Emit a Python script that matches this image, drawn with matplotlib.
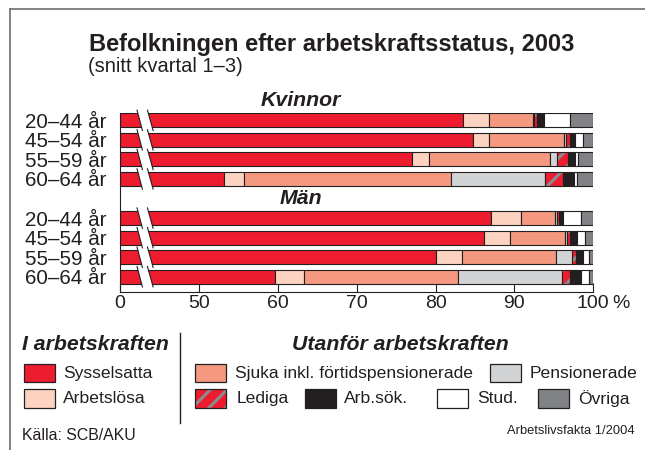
import numpy as np
import matplotlib
matplotlib.use('Agg')
import matplotlib.pyplot as plt
from matplotlib.patches import Rectangle, Polygon

plt.rcParams['font.family'] = ['Liberation Sans', 'DejaVu Sans']
plt.rcParams['hatch.linewidth'] = 2.2
plt.rcParams['hatch.color'] = '#8a8c8e'

# ---------------- data ----------------
row_labels = ['20–44 år', '45–54 år', '55–59 år', '60–64 år',
              '20–44 år', '45–54 år', '55–59 år', '60–64 år']
group_labels = ['Kvinnor', 'Män']
series_names = ['Sysselsatta', 'Arbetslösa', 'Sjuka inkl. förtidspensionerade',
                'Pensionerade', 'Lediga', 'Arb.sök.', 'Stud.', 'Övriga']

# first four: Kvinnor, last four: Män (percent)
sysselsatta  = [83.5, 84.7, 77.0, 53.2, 87.0, 86.2, 80.0, 59.6]
arbetslosa   = [3.3, 2.1, 2.2, 2.5, 3.8, 3.3, 3.3, 3.7]
sjuka        = [5.6, 9.5, 15.3, 26.2, 4.4, 6.9, 12.0, 19.5]
pensionerade = [0.1, 0.3, 0.9, 12.0, 0.2, 0.3, 2.0, 13.2]
lediga       = [0.3, 0.5, 1.4, 2.3, 0.2, 0.4, 0.5, 1.1]
arbsok       = [1.0, 0.6, 0.9, 1.3, 0.6, 0.8, 0.9, 1.4]
stud         = [3.2, 1.0, 0.4, 0.4, 2.2, 1.1, 0.8, 0.9]
ovriga       = [3.0, 1.3, 1.9, 2.1, 1.6, 1.0, 0.5, 0.6]

tick_values = [0, 50, 60, 70, 80, 90, 100]
tick_labels = ['0', '50', '60', '70', '80', '90', '100']

# ---------------- style ----------------
EDGE = '#231f20'
c_syss = '#ed1c2e'
c_arbl = '#fcd3c1'
c_sjuka = '#f4997f'
c_pens = '#d1d3d4'
c_led = '#ed1c2e'
c_hatch = '#8a8c8e'
c_arbsok = '#231f20'
c_stud = '#ffffff'
c_ovr = '#808285'

series_vals = [sysselsatta, arbetslosa, sjuka, pensionerade, lediga, arbsok, stud, ovriga]
series_cols = [c_syss, c_arbl, c_sjuka, c_pens, c_led, c_arbsok, c_stud, c_ovr]

W, H = 645, 450
fig = plt.figure(figsize=(W / 100, H / 100), dpi=100)
fig.patch.set_facecolor('white')

ax_top_px, ax_bot_px = 113.3, 292.0
ax_left_px, ax_right_px = 120.0, 593.3
ax = fig.add_axes([ax_left_px / W, 1 - ax_bot_px / H,
                   (ax_right_px - ax_left_px) / W, (ax_bot_px - ax_top_px) / H])


def fwd(v):
    v = np.asarray(v, dtype=float)
    return np.where(v <= 50, v / 5.0, v - 40.0)


def inv(p):
    p = np.asarray(p, dtype=float)
    return np.where(p <= 10, p * 5.0, p + 40.0)


ax.set_xscale('function', functions=(fwd, inv))
ax.set_xlim(0, 100)

ypos = np.array([0, 1, 2, 3, 5, 6, 7, 8], dtype=float)
bar_h = 0.72
ax.set_ylim(8.78, -bar_h / 2)

left = np.zeros(len(ypos))
for name, vals, col in zip(series_names, series_vals, series_cols):
    vals = np.array(vals)
    if name == 'Lediga':
        ax.barh(ypos, vals, left=left, height=bar_h, color=col,
                edgecolor=c_hatch, linewidth=0, hatch='//', zorder=2)
        ax.barh(ypos, vals, left=left, height=bar_h, fill=False,
                edgecolor=EDGE, linewidth=0.8, zorder=3)
    else:
        ax.barh(ypos, vals, left=left, height=bar_h, color=col,
                edgecolor=EDGE, linewidth=0.8, zorder=2)
    left = left + vals

# axis break marks
ext = 0.16
for y in ypos:
    t = y - bar_h / 2 - ext
    b = y + bar_h / 2 + ext
    x1t, x1b, x2t, x2b = 10.8, 14.2, 17.4, 21.0
    ax.add_patch(Polygon([(x1t, t), (x2t, t), (x2b, b), (x1b, b)], closed=True,
                         facecolor='white', edgecolor='none', zorder=5, clip_on=False))
    ax.plot([x1t, x1b], [t, b], color=EDGE, lw=0.8, zorder=6, clip_on=False)
    ax.plot([x2t, x2b], [t, b], color=EDGE, lw=0.8, zorder=6, clip_on=False)

for s in ['top', 'right']:
    ax.spines[s].set_visible(False)
for s in ['left', 'bottom']:
    ax.spines[s].set_color(EDGE)
    ax.spines[s].set_linewidth(0.8)

ax.set_xticks(tick_values)
ax.set_xticklabels(tick_labels)
ax.xaxis.set_minor_locator(matplotlib.ticker.NullLocator())
ax.tick_params(axis='x', direction='in', length=6.5, width=0.8, color=EDGE,
               labelsize=14, pad=2.5, labelcolor='#231f20')
ax.set_yticks(ypos)
ax.set_yticklabels(row_labels)
ax.tick_params(axis='y', length=0, labelsize=14.8, pad=9.5, labelcolor='#231f20')

# group labels
ax.text(62.9, -1.0, group_labels[0], ha='center', va='center', fontsize=15.3,
        fontweight='bold', fontstyle='italic', color='#231f20')
ax.text(62.9, 4.0, group_labels[1], ha='center', va='center', fontsize=15.3,
        fontweight='bold', fontstyle='italic', color='#231f20')

# ---------------- overlay (titles, legend, frame) ----------------
ov = fig.add_axes([0, 0, 1, 1])
ov.set_xlim(0, W)
ov.set_ylim(H, 0)
ov.axis('off')
ov.patch.set_visible(False)

TXT = '#231f20'
ov.plot([10, W], [9, 9], color='#6d6e70', lw=1.2)
ov.plot([10, 10], [9, H], color='#6d6e70', lw=1.2)

ov.text(89, 44, 'Befolkningen efter arbetskraftsstatus, 2003', fontsize=17,
        fontweight='bold', ha='left', va='center', color=TXT)
ov.text(88, 66, '(snitt kvartal 1–3)', fontsize=14.5, ha='left', va='center', color=TXT)
ov.text(612, 303, '%', fontsize=14, ha='left', va='center', color=TXT)

ov.text(22, 345, 'I arbetskraften', fontsize=15.3, fontweight='bold',
        fontstyle='italic', ha='left', va='center', color=TXT)
ov.text(292, 345, 'Utanför arbetskraften', fontsize=15.3, fontweight='bold',
        fontstyle='italic', ha='left', va='center', color=TXT)
ov.plot([180, 180], [333, 423], color=TXT, lw=1.0)

sw_w, sw_h = 31, 18.5
legend_items = [
    (24, 363.5, 0, 63),
    (24, 389, 1, 63),
    (195, 363.5, 2, 235),
    (490, 363.5, 3, 530),
    (195, 389, 4, 237),
    (305, 389, 5, 344),
    (437, 389, 6, 477),
    (538, 389, 7, 578),
]
for sx, sy, idx, tx in legend_items:
    col = series_cols[idx]
    if series_names[idx] == 'Lediga':
        ov.add_patch(Rectangle((sx, sy), sw_w, sw_h, facecolor=col, edgecolor=c_hatch,
                               linewidth=0, hatch='//'))
        ov.add_patch(Rectangle((sx, sy), sw_w, sw_h, fill=False, edgecolor=EDGE,
                               linewidth=0.9))
    else:
        ov.add_patch(Rectangle((sx, sy), sw_w, sw_h, facecolor=col, edgecolor=EDGE,
                               linewidth=0.9))
    ov.text(tx, sy + sw_h / 2 + 0.5, series_names[idx], fontsize=12.6,
            ha='left', va='center', color=TXT)

ov.text(22, 436, 'Källa: SCB/AKU', fontsize=11.4, ha='left', va='center', color=TXT)
ov.text(635, 431, 'Arbetslivsfakta 1/2004', fontsize=9.3, ha='right', va='center', color=TXT)

fig.savefig('out.png', dpi=100, facecolor='white')
